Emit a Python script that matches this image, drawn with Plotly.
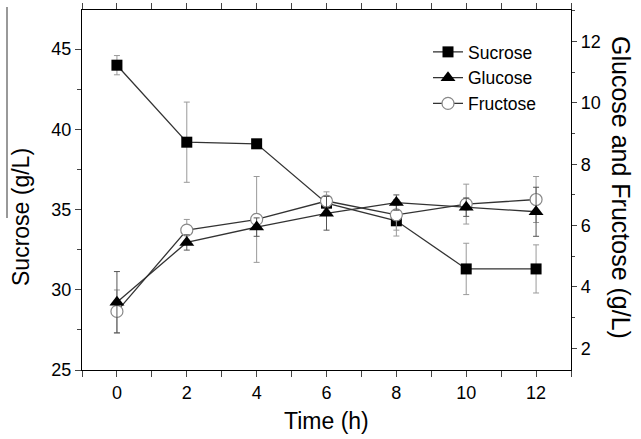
import plotly.graph_objects as go
from plotly.subplots import make_subplots

time_h = [0, 2, 4, 6, 8, 10, 12]
sucrose = [44.0, 39.2, 39.1, 35.4, 34.3, 31.3, 31.3]
sucrose_err = [0.6, 2.5, 0.1, 0.3, 0.95, 1.6, 1.5]
glucose = [3.5, 5.45, 5.95, 6.4, 6.75, 6.6, 6.45]
glucose_err = [1.0, 0.25, 0.3, 0.55, 0.25, 0.3, 0.8]
fructose = [3.2, 5.85, 6.2, 6.8, 6.35, 6.7, 6.85]
fructose_err = [0.7, 0.35, 1.4, 0.3, 0.5, 0.65, 0.75]

x_ticks = [0, 2, 4, 6, 8, 10, 12]
left_ticks = [25, 30, 35, 40, 45]
right_ticks = [2, 4, 6, 8, 10, 12]

FONT = "Liberation Sans, Arial, sans-serif"
LINE = "#333333"
ERR = "#9a9a9a"

fig = make_subplots(specs=[[{"secondary_y": True}]])

fig.add_trace(go.Scatter(
    x=time_h, y=sucrose, name="Sucrose", mode="lines+markers",
    line=dict(color=LINE, width=1.3),
    marker=dict(symbol="square", size=11, color="black"),
    error_y=dict(type="data", array=sucrose_err, color=ERR, thickness=1, width=3),
    legendrank=1,
), secondary_y=False)

fig.add_trace(go.Scatter(
    x=time_h, y=fructose, name="Fructose", mode="lines+markers",
    line=dict(color=LINE, width=1.3),
    marker=dict(symbol="circle", size=12, color="white", line=dict(color="#888888", width=1.2)),
    error_y=dict(type="data", array=fructose_err, color=ERR, thickness=1, width=3),
    legendrank=3,
), secondary_y=True)

fig.add_trace(go.Scatter(
    x=time_h, y=glucose, name="Glucose", mode="lines+markers",
    line=dict(color=LINE, width=1.3),
    marker=dict(symbol="triangle-up", size=13, color="black"),
    error_y=dict(type="data", array=glucose_err, color="#555555", thickness=1, width=3),
    legendrank=2,
), secondary_y=True)

L, R, T, B = 82, 70, 10, 69
W, H = 641, 439
pw = W - L - R
ph = H - T - B

fig.update_layout(
    width=W, height=H,
    margin=dict(l=L, r=R, t=T, b=B, autoexpand=False),
    paper_bgcolor="white", plot_bgcolor="white",
    font=dict(family=FONT, color="black", size=17),
    showlegend=True,
    legend=dict(x=(428 - L) / pw, y=(H - B - 34) / ph, xanchor="left", yanchor="top",
                bgcolor="rgba(0,0,0,0)", font=dict(size=17.5), tracegroupgap=0,
                itemwidth=30),
)

fig.update_xaxes(
    domain=[0, 1],
    range=[-1, 13], tickvals=x_ticks, ticks="outside", ticklen=6, tickwidth=1.2,
    showline=True, linecolor="black", linewidth=1.4, mirror="allticks",
    showgrid=False, zeroline=False, tickfont=dict(size=18),
    minor=dict(dtick=1, ticks="outside", ticklen=4, tickwidth=1.2, showgrid=False),
)
fig.update_yaxes(
    range=[25, 47.44], tickvals=left_ticks, ticks="outside", ticklen=6, tickwidth=1.2,
    showline=True, linecolor="black", linewidth=1.4, showgrid=False, zeroline=False,
    tickfont=dict(size=18),
    minor=dict(dtick=2.5, ticks="outside", ticklen=4, tickwidth=1.2, showgrid=False),
    secondary_y=False,
)
fig.update_yaxes(
    range=[1.29, 13.03], tickvals=right_ticks, ticks="outside", ticklen=5, tickwidth=1.2,
    showline=True, linecolor="black", linewidth=1.4, showgrid=False, zeroline=False,
    tickfont=dict(size=18),
    minor=dict(dtick=1, ticks="outside", ticklen=3, tickwidth=1.2, showgrid=False),
    secondary_y=True,
)

fig.add_annotation(text="Time (h)", xref="paper", yref="paper",
                   x=(326 - L) / pw, y=(H - B - 421) / ph, showarrow=False,
                   xanchor="center", yanchor="middle", font=dict(size=23))
fig.add_annotation(text="Sucrose (g/L)", xref="paper", yref="paper",
                   x=(21 - L) / pw, y=(H - B - 217) / ph, showarrow=False, textangle=-90,
                   xanchor="center", yanchor="middle", font=dict(size=23))
fig.add_annotation(text="Glucose and Fructose (g/L)", xref="paper", yref="paper",
                   x=(621 - L) / pw, y=(H - B - 187) / ph, showarrow=False, textangle=90,
                   xanchor="center", yanchor="middle", font=dict(size=25))

# stray vertical rule beside the left title in the source figure
fig.add_shape(type="line", xref="paper", yref="paper",
              x0=(7 - L) / pw, x1=(7 - L) / pw, y0=(H - B - 7) / ph, y1=(H - B - 218) / ph,
              line=dict(color="#777777", width=1.5))

fig.write_html("out.html")
